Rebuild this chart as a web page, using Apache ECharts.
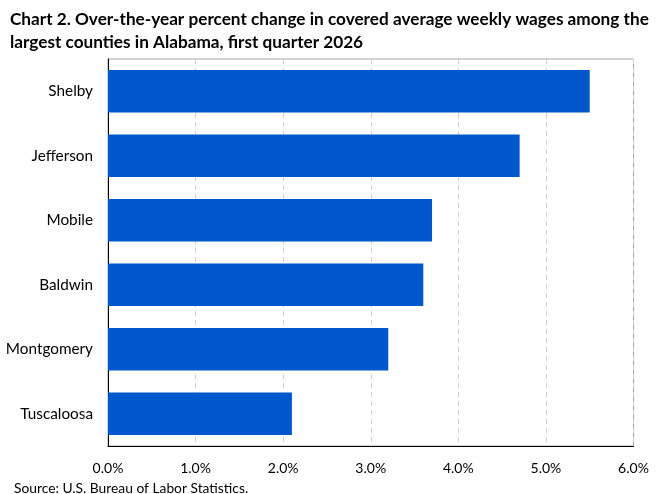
<!DOCTYPE html>
<html><head><meta charset="utf-8">
<script src="https://cdn.jsdelivr.net/npm/echarts@6/dist/echarts.min.js"></script>
<style>html,body{margin:0;padding:0;background:#fff}#c{width:660px;height:494px}</style>
</head><body><div id="c"></div>
<script>
const categories = ["Tuscaloosa","Montgomery","Baldwin","Mobile","Jefferson","Shelby"];
const values = [2.1, 3.2, 3.6, 3.7, 4.7, 5.5];
const titleLines = ["Chart 2. Over-the-year percent change in covered average weekly wages among the","largest counties in Alabama, first quarter 2026"];
const sourceText = "Source: U.S. Bureau of Labor Statistics.";
const FONT = "Lato";
const chart = echarts.init(document.getElementById('c'), null, {renderer:'canvas'});
chart.setOption({
  animation:false,
  textStyle:{fontFamily:FONT},
  title:[{text:titleLines.join('\n'), left:5, top:3,
    textStyle:{fontFamily:FONT, fontWeight:'bold', fontSize:17.2, color:'#000', lineHeight:23}},
    {text:sourceText, left:9, top:477, textStyle:{fontFamily:FONT, fontWeight:'normal', fontSize:13.8, color:'#000'}}],
  grid:{left:108, right:26.5, top:59, bottom:48, show:true, borderColor:'#a6a6a6', borderWidth:1},
  xAxis:{type:'value', min:0, max:6, interval:1,
    axisLine:{show:true, lineStyle:{color:'#000'}}, axisTick:{show:false},
    axisLabel:{formatter:v=>v.toFixed(1)+'%', fontSize:14, color:'#000', margin:15, fontFamily:FONT},
    splitLine:{show:true, lineStyle:{color:'#d0d0d0', type:[5,4]}}},
  yAxis:{type:'category', data:categories,
    axisLine:{show:true, lineStyle:{color:'#000'}}, axisTick:{show:false},
    axisLabel:{fontSize:15.3, color:'#000', margin:15, fontFamily:FONT}},
  series:[{type:'bar', data:values, barWidth:'66%', itemStyle:{color:'#0059cc'}}]
});
</script></body></html>
